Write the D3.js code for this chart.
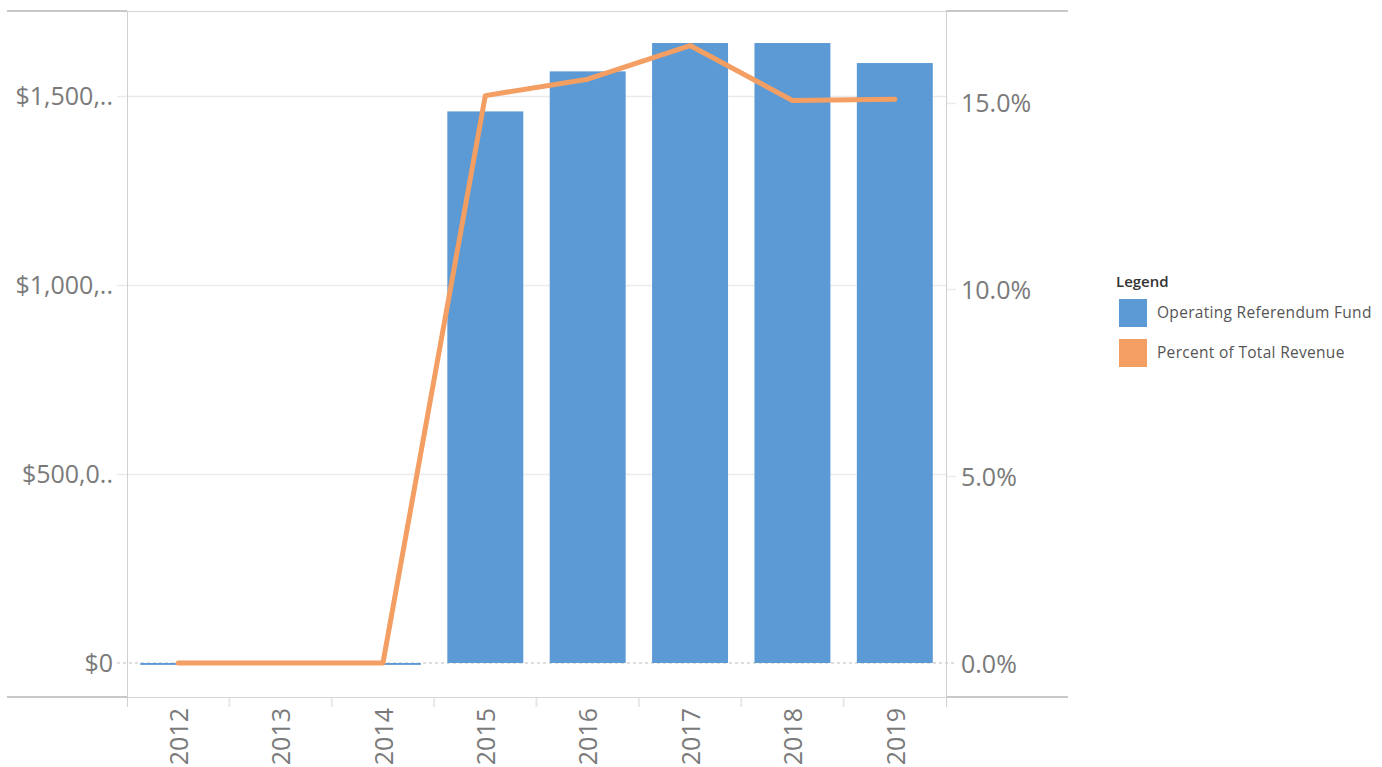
<!DOCTYPE html>
<html>
<head>
<meta charset="utf-8">
<script src="https://cdn.jsdelivr.net/npm/d3@7"></script>
<style>
    body { margin: 0; background: #fff; font-family: "Open Sans", sans-serif; }
    .tick-label { fill: #7a7a7a; font-size: 25px; }
    .legend-title { fill: #333; font-size: 15px; font-weight: 600; }
    .legend-label { fill: #555; font-size: 15.5px; letter-spacing: 0.3px; }
</style>
</head>
<body>
<div id="chart"></div>
<script>

// Data
var years = ["2012", "2013", "2014", "2015", "2016", "2017", "2018", "2019"];
var fundValues = [-5000, null, -5000, 1460000, 1566000, 1641000, 1641000, 1588000];
var percentValues = [0, 0, 0, 15.19, 15.63, 16.53, 15.06, 15.09];

var leftTickValues = [0, 500000, 1000000, 1500000];
var leftTickLabels = ["$0", "$500,0..", "$1,000,..", "$1,500,.."];
var rightTickValues = [0, 5, 10, 15];
var rightTickLabels = ["0.0%", "5.0%", "10.0%", "15.0%"];

var legendItems = ["Operating Referendum Fund", "Percent of Total Revenue"];


// Colors
var colorBar = "#5b9ad5";
var colorLine = "#f39e63";

var width = 1382, height = 767;

// Plot pane
var plot = {left: 127, right: 946, top: 11, bottom: 697};
var zeroY = 663;

var svg = d3.select("#chart").append("svg")
    .attr("width", width)
    .attr("height", height);

// Scales
var x = d3.scaleBand()
    .domain(years)
    .range([plot.left, plot.right])
    .paddingInner(0.258)
    .paddingOuter(0.129);

var yLeft = d3.scaleLinear()
    .domain([0, 1500000])
    .range([zeroY, 96.3]);

var yRight = d3.scaleLinear()
    .domain([0, 15])
    .range([zeroY, 102.7]);

// Gridlines (left axis)
svg.selectAll(".grid")
    .data(leftTickValues.slice(1))
    .enter().append("line")
    .attr("class", "grid")
    .attr("x1", plot.left - 10)
    .attr("x2", plot.right)
    .attr("y1", function (d) { return Math.round(yLeft(d)) + 0.5; })
    .attr("y2", function (d) { return Math.round(yLeft(d)) + 0.5; })
    .attr("stroke", "#ebebeb")
    .attr("stroke-width", 1.5);

// Right axis tick marks
svg.selectAll(".rtick")
    .data(rightTickValues.slice(1))
    .enter().append("line")
    .attr("class", "rtick")
    .attr("x1", plot.right)
    .attr("x2", plot.right + 10)
    .attr("y1", function (d) { return Math.round(yRight(d)) + 0.5; })
    .attr("y2", function (d) { return Math.round(yRight(d)) + 0.5; })
    .attr("stroke", "#ebebeb")
    .attr("stroke-width", 1.5);

// Zero line
svg.append("line")
    .attr("x1", plot.left - 10)
    .attr("x2", plot.right + 10)
    .attr("y1", zeroY)
    .attr("y2", zeroY)
    .attr("stroke", "#bdbdbd")
    .attr("stroke-width", 1)
    .attr("stroke-dasharray", "3,3");

// Frame lines
var frame = svg.append("g").attr("class", "frame");

frame.append("line")
    .attr("x1", plot.left).attr("x2", plot.right)
    .attr("y1", plot.top + 0.5).attr("y2", plot.top + 0.5)
    .attr("stroke", "#d6d6d6");

frame.append("line")
    .attr("x1", plot.left).attr("x2", plot.right)
    .attr("y1", plot.bottom + 0.5).attr("y2", plot.bottom + 0.5)
    .attr("stroke", "#d6d6d6");

[[7, plot.left], [plot.right, 1068]].forEach(function (seg) {
    frame.append("line")
        .attr("x1", seg[0]).attr("x2", seg[1])
        .attr("y1", plot.top).attr("y2", plot.top)
        .attr("stroke", "#c8c8c8").attr("stroke-width", 2);
    frame.append("line")
        .attr("x1", seg[0]).attr("x2", seg[1])
        .attr("y1", plot.bottom).attr("y2", plot.bottom)
        .attr("stroke", "#c8c8c8").attr("stroke-width", 2);
});

[plot.left, plot.right].forEach(function (xv) {
    frame.append("line")
        .attr("x1", xv + 0.5).attr("x2", xv + 0.5)
        .attr("y1", plot.top).attr("y2", plot.bottom + 10)
        .attr("stroke", "#d0d0d0");
});

// X-axis separators
svg.selectAll(".xsep")
    .data(years.slice(1))
    .enter().append("line")
    .attr("class", "xsep")
    .attr("x1", function (d) { return x(d) - x.step() * x.paddingInner() / 2; })
    .attr("x2", function (d) { return x(d) - x.step() * x.paddingInner() / 2; })
    .attr("y1", plot.bottom + 1)
    .attr("y2", plot.bottom + 10)
    .attr("stroke", "#e8e8e8")
    .attr("stroke-width", 2);

// Bars
svg.selectAll(".bar")
    .data(years.map(function (d, i) { return {year: d, value: fundValues[i]}; })
        .filter(function (d) { return d.value !== null; }))
    .enter().append("rect")
    .attr("class", "bar")
    .attr("x", function (d) { return x(d.year); })
    .attr("width", x.bandwidth())
    .attr("y", function (d) { return Math.min(yLeft(d.value), yLeft(0)); })
    .attr("height", function (d) { return Math.abs(yLeft(d.value) - yLeft(0)); })
    .attr("fill", colorBar);

// Line
var line = d3.line()
    .x(function (d, i) { return x(years[i]) + x.bandwidth() / 2; })
    .y(function (d) { return yRight(d); });

svg.append("path")
    .datum(percentValues)
    .attr("d", line)
    .attr("fill", "none")
    .attr("stroke", colorLine)
    .attr("stroke-width", 5)
    .attr("stroke-linejoin", "round")
    .attr("stroke-linecap", "round");

// Left axis labels
svg.selectAll(".left-label")
    .data(leftTickValues)
    .enter().append("text")
    .attr("class", "tick-label left-label")
    .attr("x", 113)
    .attr("y", function (d) { return yLeft(d); })
    .attr("dy", "0.35em")
    .attr("text-anchor", "end")
    .text(function (d, i) { return leftTickLabels[i]; });

// Right axis labels
svg.selectAll(".right-label")
    .data(rightTickValues)
    .enter().append("text")
    .attr("class", "tick-label right-label")
    .attr("x", 961)
    .attr("y", function (d) { return yRight(d) + 1; })
    .attr("dy", "0.35em")
    .attr("text-anchor", "start")
    .text(function (d, i) { return rightTickLabels[i]; });

// X-axis labels
svg.selectAll(".x-label")
    .data(years)
    .enter().append("text")
    .attr("class", "tick-label x-label")
    .attr("text-anchor", "end")
    .attr("dy", "0.35em")
    .attr("transform", function (d) {
        return "translate(" + (x(d) + x.bandwidth() / 2 + 1) + "," + (plot.bottom + 11) + ") rotate(-90)";
    })
    .text(function (d) { return d; });

// Legend
var legend = svg.append("g")
    .attr("transform", "translate(1116,282)");

legend.append("text")
    .attr("class", "legend-title")
    .attr("x", 0)
    .attr("y", 0)
    .attr("dy", "0.35em")
    .text("Legend");

var legendColors = [colorBar, colorLine];

var legendRow = legend.selectAll(".legend-row")
    .data(legendItems)
    .enter().append("g")
    .attr("class", "legend-row")
    .attr("transform", function (d, i) { return "translate(0," + (17 + i * 40) + ")"; });

legendRow.append("rect")
    .attr("x", 3)
    .attr("y", 0)
    .attr("width", 28)
    .attr("height", 28)
    .attr("fill", function (d, i) { return legendColors[i]; });

legendRow.append("text")
    .attr("class", "legend-label")
    .attr("x", 41)
    .attr("y", 14)
    .attr("dy", "0.35em")
    .text(function (d) { return d; });

</script>
</body>
</html>
